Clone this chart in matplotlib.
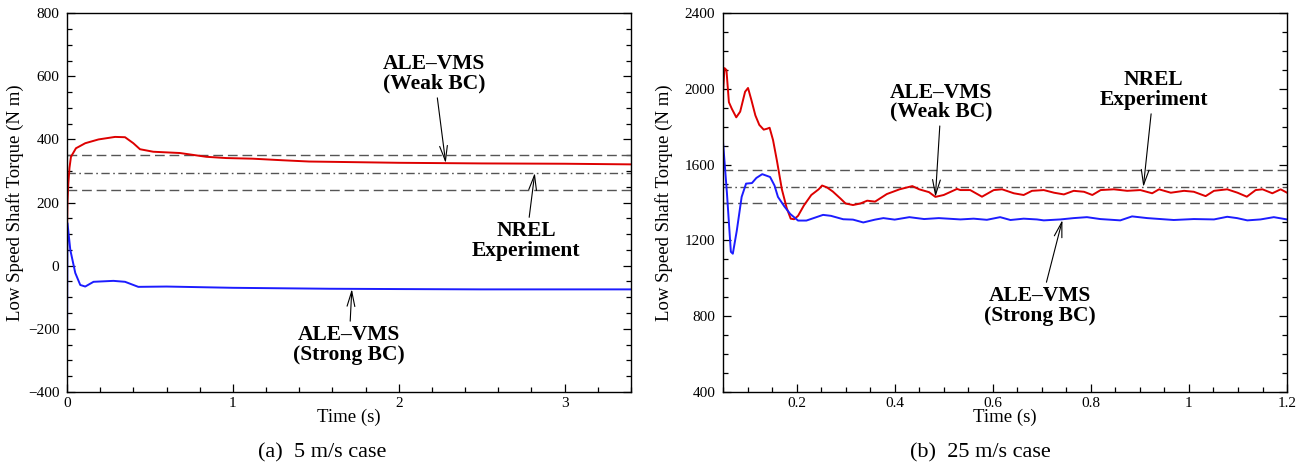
import matplotlib
matplotlib.use("Agg")
import matplotlib.pyplot as plt
from matplotlib.ticker import MultipleLocator

plt.rcParams["font.family"] = ["Liberation Serif", "DejaVu Serif"]

# 5 m/s case: low speed shaft torque (N m) vs time (s)
t5_weak = [0.0, 0.003, 0.008, 0.015, 0.024, 0.054, 0.11, 0.19, 0.29, 0.35, 0.40, 0.44,
           0.52, 0.68, 0.84, 0.96, 1.12, 1.30, 1.46, 1.60, 2.00, 2.50, 3.00, 3.40]
q5_weak = [100, 200, 260, 310, 345, 372, 388, 400, 408, 407, 388, 369,
           361, 357, 345, 341, 339, 334, 330, 329, 326, 324, 323, 321]

t5_strong = [0.0, 0.003, 0.02, 0.05, 0.08, 0.11, 0.16, 0.28, 0.35, 0.43, 0.60,
             1.00, 1.58, 2.00, 2.50, 3.00, 3.40]
q5_strong = [-270, 135, 50, -23, -61, -66, -51, -48, -51, -67, -66,
             -70, -73, -74, -75, -75, -75]

nrel5 = [350, 295, 240]  # upper bound, mean, lower bound

# 25 m/s case
t25_weak = [0.050, 0.053, 0.057, 0.062, 0.068, 0.077, 0.085, 0.095, 0.101, 0.108,
            0.116, 0.124, 0.133, 0.140, 0.145, 0.152, 0.160, 0.170, 0.180, 0.188,
            0.195, 0.203, 0.215, 0.230, 0.245, 0.252, 0.262, 0.274, 0.290, 0.300,
            0.315, 0.330, 0.344, 0.360, 0.384, 0.410, 0.436, 0.450, 0.470, 0.483,
            0.500, 0.527, 0.534, 0.554, 0.578, 0.602, 0.619, 0.643, 0.663, 0.680,
            0.704, 0.725, 0.745, 0.765, 0.786, 0.803, 0.820, 0.847, 0.874, 0.901,
            0.925, 0.939, 0.963, 0.990, 1.010, 1.034, 1.051, 1.078, 1.099, 1.118,
            1.136, 1.150, 1.170, 1.187, 1.200]
q25_weak = [1980, 2110, 2100, 1930, 1895, 1850, 1880, 1985, 2005, 1940,
            1860, 1810, 1785, 1790, 1795, 1730, 1620, 1470, 1370, 1315,
            1312, 1330, 1385, 1440, 1470, 1490, 1480, 1458, 1420, 1395,
            1387, 1395, 1410, 1405, 1445, 1470, 1487, 1470, 1455, 1430,
            1440, 1472, 1466, 1466, 1431, 1466, 1470, 1449, 1440, 1462,
            1466, 1452, 1443, 1462, 1457, 1440, 1466, 1470, 1462, 1466,
            1449, 1470, 1452, 1462, 1457, 1434, 1462, 1470, 1452, 1431,
            1466, 1470, 1449, 1470, 1452]

t25_strong = [0.050, 0.058, 0.066, 0.070, 0.078, 0.088, 0.097, 0.109, 0.118, 0.130,
              0.146, 0.155, 0.162, 0.175, 0.187, 0.203, 0.220, 0.254, 0.270, 0.295,
              0.315, 0.336, 0.360, 0.377, 0.400, 0.430, 0.460, 0.490, 0.534, 0.561,
              0.588, 0.615, 0.636, 0.663, 0.690, 0.704, 0.738, 0.765, 0.792, 0.819,
              0.860, 0.884, 0.915, 0.942, 0.969, 1.010, 1.051, 1.078, 1.098, 1.119,
              1.146, 1.173, 1.200]
q25_strong = [1720, 1450, 1140, 1130, 1250, 1430, 1500, 1503, 1530, 1550,
              1535, 1490, 1430, 1380, 1340, 1305, 1305, 1335, 1330, 1312,
              1310, 1295, 1310, 1318, 1310, 1323, 1313, 1318, 1311, 1315,
              1309, 1323, 1308, 1315, 1311, 1306, 1311, 1318, 1323, 1313,
              1306, 1327, 1318, 1313, 1308, 1313, 1311, 1325, 1318, 1306,
              1311, 1323, 1311]

nrel25 = [1572, 1482, 1398]

RED = "#dd0000"
BLUE = "#1c1cff"
GREY = "#555555"

fig = plt.figure(figsize=(13.16, 4.70), dpi=100)
ax1 = fig.add_axes([0.0509, 0.166, 0.4286, 0.806])
ax2 = fig.add_axes([0.5494, 0.166, 0.4286, 0.806])


def style_axes(ax):
    for side in ["left", "right", "top", "bottom"]:
        ax.spines[side].set_linewidth(1.0)
    ax.tick_params(which="both", direction="in", right=True, top=False,
                   labelsize=11, width=0.9)
    ax.tick_params(which="major", length=6)
    ax.tick_params(which="minor", length=3.6)
    ax.tick_params(axis="y", pad=5.5)
    ax.tick_params(axis="x", pad=3.5)


def nrel_lines(ax, vals, xmax):
    upper, mean, lower = vals
    ax.axhline(upper, color=GREY, lw=1.0, dashes=(7, 3.5))
    ax.axhline(mean, color=GREY, lw=1.0, dashes=(6, 2.5, 1.2, 2.5))
    ax.axhline(lower, color=GREY, lw=1.0, dashes=(7, 3.5))


def label(ax, text, xy, xytext):
    ax.annotate(text, xy=xy, xytext=xytext, ha="center", va="center",
                fontsize=15.5, fontweight="bold", linespacing=0.95,
                arrowprops=dict(arrowstyle="->,head_length=0.7,head_width=0.18",
                                color="black", lw=0.8, shrinkA=1, shrinkB=0))


# (a) 5 m/s
nrel_lines(ax1, nrel5, 3.4)
ax1.plot(t5_weak, q5_weak, color=RED, lw=1.4)
ax1.plot(t5_strong, q5_strong, color=BLUE, lw=1.4)
ax1.set_xlim(0, 3.4)
ax1.set_ylim(-400, 800)
ax1.xaxis.set_major_locator(MultipleLocator(1))
ax1.xaxis.set_minor_locator(MultipleLocator(0.2))
ax1.yaxis.set_major_locator(MultipleLocator(200))
ax1.yaxis.set_minor_locator(MultipleLocator(50))
style_axes(ax1)
ax1.set_xlabel("Time (s)", fontsize=13.5)
ax1.set_ylabel("Low Speed Shaft Torque (N m)", fontsize=13.5)
ax1.xaxis.set_label_coords(0.5, -0.045)
ax1.yaxis.set_label_coords(-0.076, 0.5)
label(ax1, "ALE–VMS\n(Weak BC)", (2.283, 325), (2.214, 607))
label(ax1, "NREL\nExperiment", (2.82, 294), (2.768, 78))
label(ax1, "ALE–VMS\n(Strong BC)", (1.717, -74), (1.70, -251))

# (b) 25 m/s
nrel_lines(ax2, nrel25, 1.2)
ax2.plot(t25_weak, q25_weak, color=RED, lw=1.4)
ax2.plot(t25_strong, q25_strong, color=BLUE, lw=1.4)
ax2.set_xlim(0.05, 1.2)
ax2.set_ylim(400, 2400)
ax2.xaxis.set_major_locator(MultipleLocator(0.2))
ax2.xaxis.set_minor_locator(MultipleLocator(0.05))
ax2.yaxis.set_major_locator(MultipleLocator(400))
ax2.yaxis.set_minor_locator(MultipleLocator(100))
ax2.set_xticks([0.2, 0.4, 0.6, 0.8, 1.0, 1.2])
ax2.set_xticklabels(["0.2", "0.4", "0.6", "0.8", "1", "1.2"])
style_axes(ax2)
ax2.set_xlabel("Time (s)", fontsize=13.5)
ax2.set_ylabel("Low Speed Shaft Torque (N m)", fontsize=13.5)
ax2.xaxis.set_label_coords(0.5, -0.045)
ax2.yaxis.set_label_coords(-0.088, 0.5)
label(ax2, "ALE–VMS\n(Weak BC)", (0.483, 1429), (0.495, 1930))
label(ax2, "NREL\nExperiment", (0.907, 1482), (0.928, 1994))
label(ax2, "ALE–VMS\n(Strong BC)", (0.742, 1308), (0.697, 854))

fig.text(0.245, 0.036, "(a)  5 m/s case", ha="center", va="center", fontsize=16)
fig.text(0.745, 0.036, "(b)  25 m/s case", ha="center", va="center", fontsize=16)

fig.savefig("out.png", dpi=100)
